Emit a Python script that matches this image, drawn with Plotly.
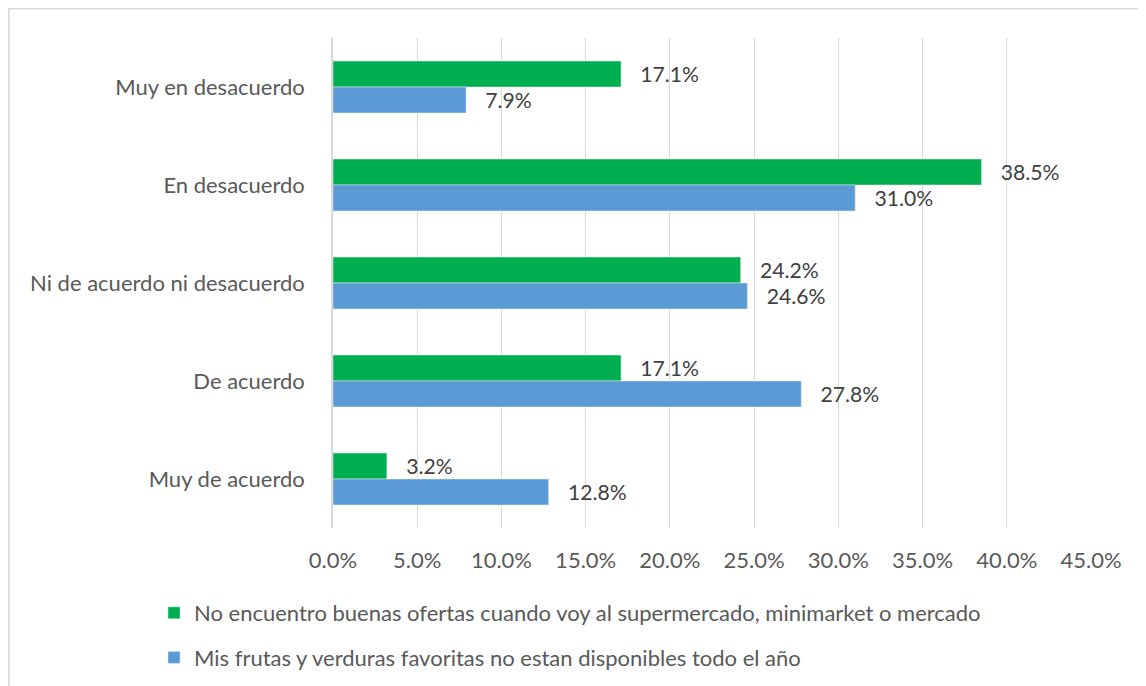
import plotly.graph_objects as go

categories = ["Muy en desacuerdo", "En desacuerdo", "Ni de acuerdo ni desacuerdo", "De acuerdo", "Muy de acuerdo"]
series_green_name = "No encuentro buenas ofertas cuando voy al supermercado, minimarket o mercado"
series_blue_name = "Mis frutas y verduras favoritas no estan disponibles todo el año"
green_values = [17.1, 38.5, 24.2, 17.1, 3.2]
blue_values = [7.9, 31.0, 24.6, 27.8, 12.8]
tick_values = [0, 5, 10, 15, 20, 25, 30, 35, 40, 45]
tick_labels = ["0.0%", "5.0%", "10.0%", "15.0%", "20.0%", "25.0%", "30.0%", "35.0%", "40.0%", "45.0%"]

# page body has 8px margin, so the figure starts at (8, 8) of the window
OFF = 8
W, H = 1146 - OFF, 686 - OFF
L, R, T, B = 333 - OFF, 55, 38 - OFF, 158
FONT = "Lato"
FS = 22
TXT = "#595959"

fig = go.Figure()
fig.add_trace(go.Bar(
    y=categories, x=green_values, orientation="h", name=series_green_name,
    marker=dict(color="#00B050"), legendgroup="g",
    text=[f"   {v:.1f}%" for v in green_values], textposition="outside",
    textfont=dict(family=FONT, size=FS, color="#404040"), cliponaxis=False,
))
fig.add_trace(go.Bar(
    y=categories, x=blue_values, orientation="h", name=series_blue_name,
    marker=dict(color="#5B9BD5"), legendgroup="b",
    text=[f"   {v:.1f}%" for v in blue_values], textposition="outside",
    textfont=dict(family=FONT, size=FS, color="#404040"), cliponaxis=False,
))

pw = W - L - R
ph = H - T - B


def px_x(p):
    return (p - L) / pw


def px_y(p):
    return (H - B - p) / ph


fig.add_shape(type="rect", xref="paper", yref="paper",
              x0=px_x(0.8), x1=px_x(W + 20),
              y0=px_y(H + 20), y1=px_y(0.8),
              line=dict(color="#D9D9D9", width=1.5), fillcolor="rgba(0,0,0,0)", layer="below")

fig.update_layout(
    width=W, height=H,
    margin=dict(l=L, r=R, t=T, b=B, autoexpand=False),
    paper_bgcolor="white", plot_bgcolor="white",
    barmode="group", bargap=0.47, bargroupgap=0,
    font=dict(family=FONT, size=FS, color=TXT),
    xaxis=dict(range=[0, 45], tickvals=tick_values, ticktext=tick_labels,
               showgrid=True, gridcolor="#D9D9D9", gridwidth=1.3, zeroline=False,
               tickfont=dict(family=FONT, size=FS, color=TXT), ticks="", ticklabelstandoff=17),
    yaxis=dict(autorange="reversed", showline=True, linecolor="#D9D9D9", linewidth=1.5,
               showgrid=False, ticks="", ticklabelstandoff=22,
               tickfont=dict(family=FONT, size=FS, color=TXT)),
    legend=dict(orientation="v", x=px_x(146), xanchor="left", y=px_y(584), yanchor="top",
                traceorder="grouped", tracegroupgap=13,
                font=dict(family=FONT, size=FS, color=TXT), itemwidth=30),
    showlegend=True,
)

fig.write_html("out.html")
